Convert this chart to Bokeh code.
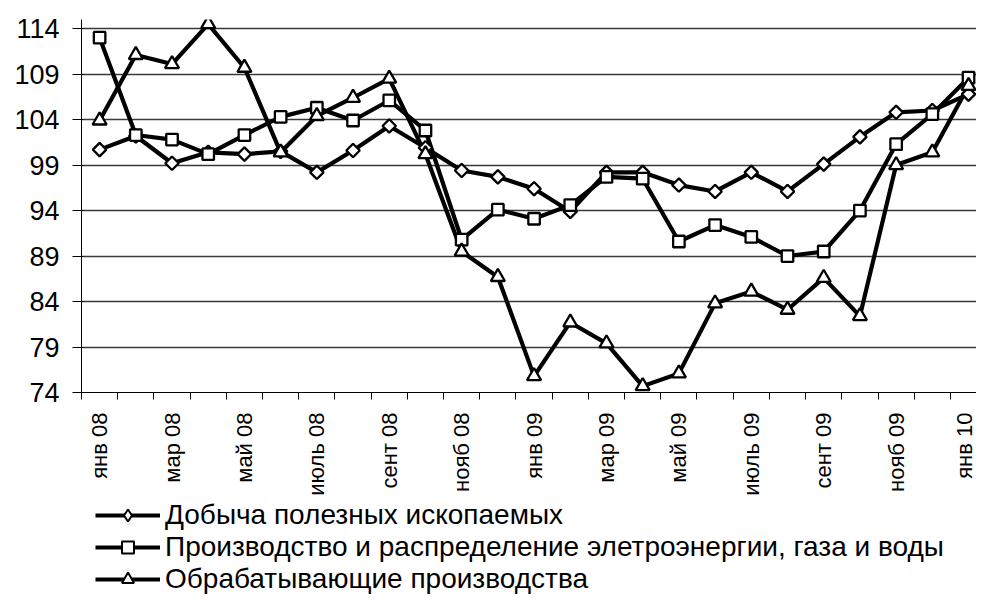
import math
from bokeh.plotting import figure
from bokeh.layouts import column
from bokeh.models import FixedTicker, Range1d, Legend, LegendItem
from bokeh.embed import file_html
from bokeh.resources import INLINE

months = ["янв 08", "фев 08", "мар 08", "апр 08", "май 08", "июнь 08", "июль 08",
          "авг 08", "сент 08", "окт 08", "нояб 08", "дек 08", "янв 09", "фев 09",
          "мар 09", "апр 09", "май 09", "июнь 09", "июль 09", "авг 09", "сент 09",
          "окт 09", "нояб 09", "дек 09", "янв 10"]
tick_label_months = ["янв 08", "мар 08", "май 08", "июль 08", "сент 08", "нояб 08",
                     "янв 09", "мар 09", "май 09", "июль 09", "сент 09", "нояб 09", "янв 10"]

mining = [100.7, 102.2, 99.2, 100.4, 100.2, 100.5, 98.2, 100.6, 103.3, 100.9,
          98.4, 97.7, 96.4, 93.9, 98.2, 98.2, 96.8, 96.1, 98.2, 96.1,
          99.1, 102.1, 104.8, 105.0, 106.8]
utilities = [113.0, 102.3, 101.8, 100.2, 102.3, 104.3, 105.3, 103.9, 106.1, 102.8,
             90.8, 94.1, 93.1, 94.6, 97.7, 97.5, 90.6, 92.4, 91.1, 89.0,
             89.5, 94.0, 101.3, 104.6, 108.6]
manufacturing = [103.9, 111.1, 110.1, 114.5, 109.7, 100.4, 104.4, 106.4, 108.5, 100.2,
                 89.5, 86.7, 75.8, 81.7, 79.4, 74.7, 76.1, 83.8, 85.1, 83.1,
                 86.6, 82.4, 99.0, 100.4, 107.7]

names = ["Добыча полезных ископаемых",
         "Производство и распределение элетроэнергии, газа и воды",
         "Обрабатывающие производства"]
y_ticks = [74, 79, 84, 89, 94, 99, 104, 109, 114]

FONT = "Liberation Sans"
xs = list(range(len(months)))

p = figure(width=976, height=499, output_backend="svg", toolbar_location=None,
           x_range=Range1d(-0.5, 24.22), y_range=Range1d(74, 115),
           min_border_left=81, min_border_right=0, min_border_top=19,
           min_border_bottom=107)
p.outline_line_color = None
p.background_fill_color = "white"
p.border_fill_color = "white"

# axes
xt = FixedTicker(ticks=[xs[months.index(m)] for m in tick_label_months],
                 minor_ticks=[i - 0.5 for i in range(len(months) + 1)])
p.xaxis.ticker = xt
p.xaxis.major_label_overrides = {xs[months.index(m)]: m for m in tick_label_months}
p.xaxis.major_label_orientation = math.pi / 2
p.xaxis.major_tick_line_color = None
p.xaxis.major_tick_out = 7
p.xaxis.major_tick_in = 0
p.xaxis.minor_tick_line_color = "black"
p.xaxis.minor_tick_out = 7
p.xaxis.minor_tick_in = 0
p.xaxis.major_label_standoff = 13
p.xaxis.major_label_text_font = FONT
p.xaxis.major_label_text_font_size = "22px"
p.xaxis.major_label_text_color = "black"
p.xaxis.axis_line_color = "black"

p.yaxis.ticker = FixedTicker(ticks=y_ticks)
p.yaxis.major_tick_out = 9
p.yaxis.major_tick_in = 2
p.yaxis.minor_tick_line_color = None
p.yaxis.major_label_standoff = 13
p.yaxis.major_label_text_font = FONT
p.yaxis.major_label_text_font_size = "27px"
p.yaxis.major_label_text_color = "black"
p.yaxis.axis_line_color = "black"

p.xgrid.grid_line_color = None
p.ygrid.grid_line_color = "#3a3a3a"
p.ygrid.grid_line_width = 1.3

series = [(mining, "square", 9.5, math.pi / 4),
          (utilities, "square", 11.5, 0),
          (manufacturing, "triangle", 14, 0)]
legend_markers = [("diamond", 13), ("square", 9), ("triangle", 11)]
for vals, _, _, _ in series:
    p.line(xs, vals, line_color="black", line_width=4.2)
for vals, mk, sz, ang in series:
    p.scatter(xs, vals, marker=mk, size=sz, angle=ang,
              fill_color="white", line_color="black", line_width=2.3)

# legend strip below the chart (its renderers hold the series but lie outside its view)
lg = figure(width=976, height=96, output_backend="svg", toolbar_location=None,
            x_range=Range1d(0, 1), y_range=Range1d(0, 1),
            x_axis_type=None, y_axis_type=None,
            min_border_left=81, min_border_right=0, min_border_top=0,
            min_border_bottom=0)
lg.outline_line_color = None
lg.xgrid.visible = False
lg.ygrid.visible = False
items = []
for i, (vals, _, _, _) in enumerate(series):
    mk, sz = legend_markers[i]
    lr = lg.line(xs, vals, line_color="black", line_width=4.2)
    sr = lg.scatter(xs, vals, marker=mk, size=sz,
                    fill_color="white", line_color="black", line_width=2)
    items.append(LegendItem(label=names[i], renderers=[lr, sr]))
legend = Legend(items=items, location=(14, 0), orientation="vertical",
                label_text_font=FONT, label_text_font_size="28px",
                label_text_color="black", glyph_width=65, glyph_height=30,
                label_height=30, label_standoff=5, spacing=0, padding=0,
                margin=0, border_line_color=None, background_fill_alpha=0)
lg.add_layout(legend, "center")

layout = column(p, lg, spacing=0)
open("out.html", "w").write(file_html(layout, INLINE))
